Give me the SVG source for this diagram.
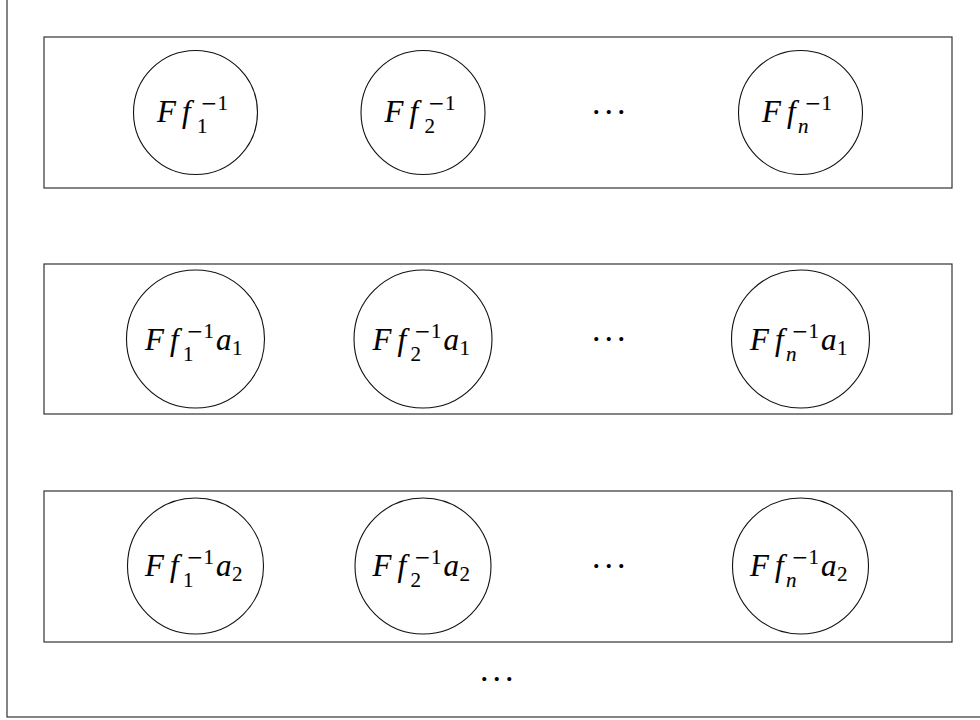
<svg xmlns="http://www.w3.org/2000/svg" width="980" height="720" viewBox="0 0 980 720">
<style>
.frame{fill:none;stroke:#333;stroke-width:1.2}
.node{fill:none;stroke:#111;stroke-width:1.1}
.m{font-family:"Liberation Serif","Times New Roman",serif;font-size:31px;fill:#000;stroke:#000;stroke-width:0.12}
.i{font-style:italic}
.s{font-size:21px}
.mn{font-family:"DejaVu Sans",sans-serif;font-size:20px;stroke:none}
.dots{font-family:"Liberation Serif","Times New Roman",serif;font-size:34px;fill:#000;letter-spacing:4px}
</style>
<rect class="frame" x="7" y="-5" width="990" height="722"/>
<g id="row1">
<rect class="frame" x="44" y="37" width="908" height="151"/>
<g id="n11"><circle class="node" cx="195.5" cy="112.5" r="62"/>
<text class="m"><tspan class="i" x="157" y="122">F</tspan><tspan class="i" x="182" y="122">f</tspan><tspan class="s" x="197" y="133">1</tspan><tspan class="mn" x="200.5" y="109.5">−</tspan><tspan class="s" x="217.6" y="109.5">1</tspan></text></g>
<g id="n12"><circle class="node" cx="423" cy="112.5" r="62"/>
<text class="m"><tspan class="i" x="384.5" y="122">F</tspan><tspan class="i" x="409.5" y="122">f</tspan><tspan class="s" x="424.5" y="133">2</tspan><tspan class="mn" x="428" y="109.5">−</tspan><tspan class="s" x="445.1" y="109.5">1</tspan></text></g>
<text class="dots" x="592" y="114">...</text>
<g id="n1n"><circle class="node" cx="800.5" cy="112.5" r="62"/>
<text class="m"><tspan class="i" x="762" y="122">F</tspan><tspan class="i" x="787" y="122">f</tspan><tspan class="s i" x="798" y="133">n</tspan><tspan class="mn" x="804.5" y="109.5">−</tspan><tspan class="s" x="821.6" y="109.5">1</tspan></text></g>
</g>
<g id="row2">
<rect class="frame" x="44" y="264" width="908" height="150"/>
<g id="n21"><circle class="node" cx="195.5" cy="339" r="69"/>
<text class="m"><tspan class="i" x="145" y="350">F</tspan><tspan class="i" x="170" y="350">f</tspan><tspan class="s" x="183" y="361">1</tspan><tspan class="mn" x="186.5" y="337.5">−</tspan><tspan class="s" x="203.6" y="337.5">1</tspan><tspan class="i" x="216" y="350">a</tspan><tspan class="s" x="232" y="355">1</tspan></text></g>
<g id="n22"><circle class="node" cx="423" cy="339" r="69"/>
<text class="m"><tspan class="i" x="372.5" y="350">F</tspan><tspan class="i" x="397.5" y="350">f</tspan><tspan class="s" x="410.5" y="361">2</tspan><tspan class="mn" x="414" y="337.5">−</tspan><tspan class="s" x="431.1" y="337.5">1</tspan><tspan class="i" x="443.5" y="350">a</tspan><tspan class="s" x="459.5" y="355">1</tspan></text></g>
<text class="dots" x="592" y="341">...</text>
<g id="n2n"><circle class="node" cx="800.5" cy="339" r="69"/>
<text class="m"><tspan class="i" x="750" y="350">F</tspan><tspan class="i" x="775" y="350">f</tspan><tspan class="s i" x="786" y="361">n</tspan><tspan class="mn" x="791.5" y="337.5">−</tspan><tspan class="s" x="808.6" y="337.5">1</tspan><tspan class="i" x="821" y="350">a</tspan><tspan class="s" x="837" y="355">1</tspan></text></g>
</g>
<g id="row3">
<rect class="frame" x="44" y="491" width="908" height="151"/>
<g id="n31"><circle class="node" cx="195.5" cy="566" r="68"/>
<text class="m"><tspan class="i" x="145" y="576">F</tspan><tspan class="i" x="170" y="576">f</tspan><tspan class="s" x="183" y="587">1</tspan><tspan class="mn" x="186.5" y="563.5">−</tspan><tspan class="s" x="203.6" y="563.5">1</tspan><tspan class="i" x="216" y="576">a</tspan><tspan class="s" x="232" y="581">2</tspan></text></g>
<g id="n32"><circle class="node" cx="423" cy="566" r="68"/>
<text class="m"><tspan class="i" x="372.5" y="576">F</tspan><tspan class="i" x="397.5" y="576">f</tspan><tspan class="s" x="410.5" y="587">2</tspan><tspan class="mn" x="414" y="563.5">−</tspan><tspan class="s" x="431.1" y="563.5">1</tspan><tspan class="i" x="443.5" y="576">a</tspan><tspan class="s" x="459.5" y="581">2</tspan></text></g>
<text class="dots" x="592" y="568">...</text>
<g id="n3n"><circle class="node" cx="800.5" cy="566" r="68"/>
<text class="m"><tspan class="i" x="750" y="576">F</tspan><tspan class="i" x="775" y="576">f</tspan><tspan class="s i" x="786" y="587">n</tspan><tspan class="mn" x="791.5" y="563.5">−</tspan><tspan class="s" x="808.6" y="563.5">1</tspan><tspan class="i" x="821" y="576">a</tspan><tspan class="s" x="837" y="581">2</tspan></text></g>
</g>
<text class="dots" x="480" y="681">...</text>
<g id="connectors"/>
</svg>
